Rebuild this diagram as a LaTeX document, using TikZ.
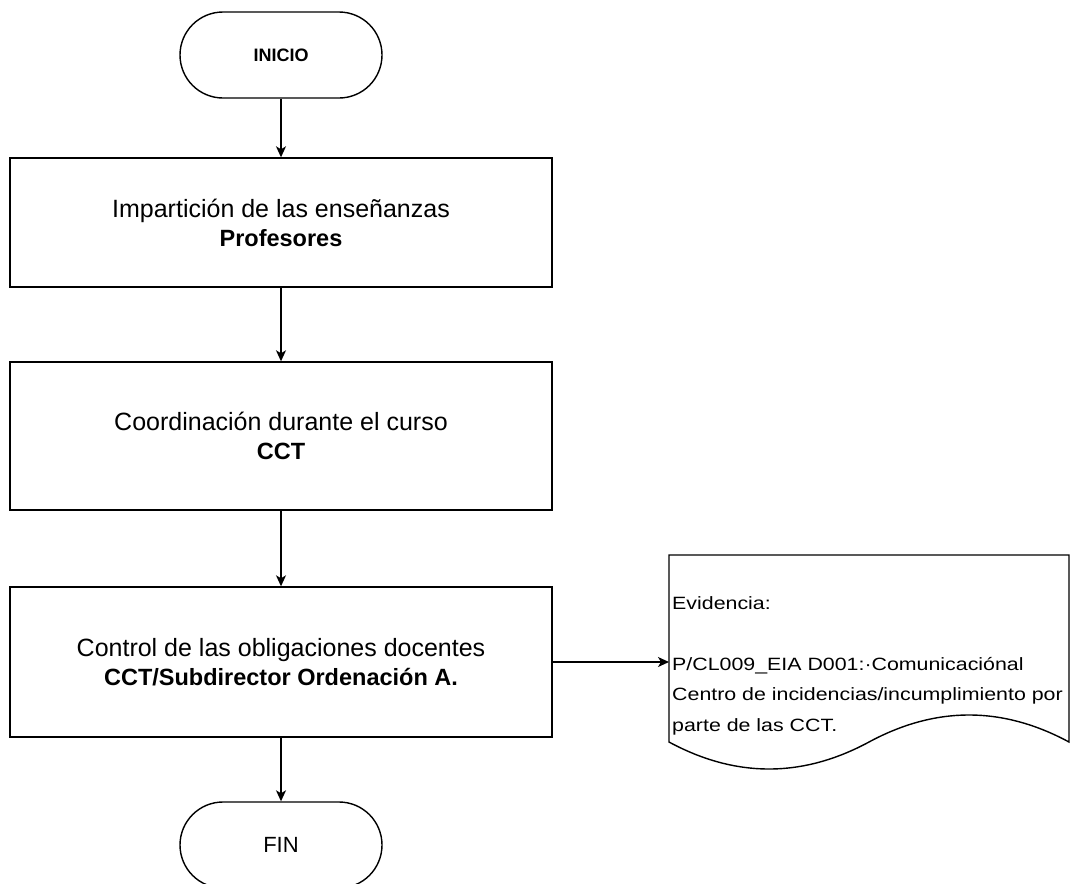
\documentclass[tikz,border=0pt]{standalone}
\usepackage{fontspec}
\setmainfont{Liberation Sans}
\newfontfamily\docfont{Liberation Sans}[FakeStretch=1.2]
\usetikzlibrary{arrows.meta}
\tikzset{
  x=1pt, y=-1pt,
  line/.style={line width=1.4pt, draw=black},
  conn/.style={line, -{Stealth[length=11pt,width=10pt,inset=3pt]}},
  term/.style={line, rounded corners=43pt, minimum width=202pt, minimum height=86pt, inner sep=0pt},
  procbox/.style={line, minimum width=542pt, inner sep=0pt, align=center},
  bigtxt/.style={font=\fontsize{25}{29}\selectfont},
}
\begin{document}
\begin{tikzpicture}
\useasboundingbox (0,0) rectangle (1077,884);
\fill[white] (0,0) rectangle (1077,884);
\node[term, font=\fontsize{18}{20}\selectfont\bfseries] (inicio) at (281,55) {INICIO};
\node[procbox, minimum height=129pt, bigtxt] (b1) at (281,222.5)
  {Impartición de las enseñanzas\\{\fontsize{23.5}{29}\selectfont\bfseries Profesores}};
\node[procbox, minimum height=148pt, bigtxt] (b2) at (281,436)
  {Coordinación durante el curso\\{\fontsize{23.5}{29}\selectfont\bfseries CCT}};
\node[procbox, minimum height=150pt, bigtxt] (b3) at (281,662)
  {Control de las obligaciones docentes\\{\fontsize{23.5}{29}\selectfont\bfseries CCT/Subdirector Ordenación A.}};
\node[term, font=\fontsize{22}{24}\selectfont] (fin) at (281,845) {FIN};
% document shape
\draw[line] (669,555) -- (1069,555) -- (1069,742)
  .. controls (1002.3,706) and (935.7,706) .. (869,742)
  .. controls (802.3,778) and (735.7,778) .. (669,742) -- cycle;
\coordinate (docin) at (669,662);
\node[anchor=north west, inner sep=0pt, align=left, font=\docfont\fontsize{17.8}{30.5}\selectfont] (doctext) at (672,596)
  {Evidencia:\\ \mbox{}\\ P/CL009\_EIA D001:·Comunicaciónal\\ Centro de incidencias/incumplimiento por\\ parte de las CCT.};
\draw[conn] (inicio) -- (b1);
\draw[conn] (b1) -- (b2);
\draw[conn] (b2) -- (b3);
\draw[conn] (b3) -- (fin);
\draw[conn] (b3.east) -- (docin);
\end{tikzpicture}
\end{document}
